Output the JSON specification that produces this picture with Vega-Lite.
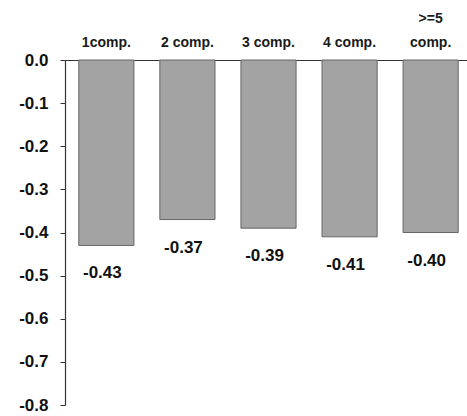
{
  "$schema": "https://vega.github.io/schema/vega-lite/v6.json",
  "width": 407,
  "height": 345,
  "autosize": {"type": "none"},
  "padding": {"left": 65, "top": 60, "right": 0, "bottom": 11},
  "background": "white",
  "config": {
    "view": {"stroke": null},
    "font": "Liberation Sans",
    "locale": {"number": {"decimal": ".", "thousands": ",", "grouping": [3], "currency": ["$", ""], "minus": "-"}}
  },
  "data": {
    "values": [
      {"category": "1comp.", "value": -0.43},
      {"category": "2 comp.", "value": -0.37},
      {"category": "3 comp.", "value": -0.39},
      {"category": "4 comp.", "value": -0.41},
      {"category": ">=5 comp.", "value": -0.40}
    ]
  },
  "encoding": {
    "x": {
      "field": "category",
      "type": "nominal",
      "sort": null,
      "scale": {"paddingInner": 0.32, "paddingOuter": 0.17},
      "axis": {
        "orient": "top",
        "title": null,
        "ticks": false,
        "labelAngle": 0,
        "labelFontSize": 14,
        "labelFontWeight": "bold",
        "labelColor": "#1a1a1a",
        "labelPadding": 35,
        "labelLineHeight": 24,
        "labelExpr": "datum.value == '>=5 comp.' ? ['>=5', 'comp.'] : ['', datum.value]",
        "domainColor": "#333",
        "domainWidth": 1.2
      }
    },
    "y": {
      "field": "value",
      "type": "quantitative",
      "scale": {"domain": [-0.8, 0], "nice": false, "zero": false},
      "axis": {
        "title": null,
        "grid": false,
        "values": [0, -0.1, -0.2, -0.3, -0.4, -0.5, -0.6, -0.7, -0.8],
        "format": ".1f",
        "labelFontSize": 17,
        "labelFontWeight": "bold",
        "labelColor": "#111",
        "tickSize": 5,
        "tickColor": "#333",
        "labelPadding": 12,
        "domainColor": "#333",
        "domainWidth": 1.2
      }
    }
  },
  "layer": [
    {"mark": {"type": "bar", "color": "#a3a3a3", "stroke": "#666", "strokeWidth": 1}},
    {
      "mark": {"type": "text", "baseline": "top", "dy": 20, "dx": -4, "fontSize": 17, "fontWeight": "bold", "color": "#111"},
      "encoding": {"text": {"field": "value", "type": "quantitative", "format": ".2f"}}
    }
  ]
}
